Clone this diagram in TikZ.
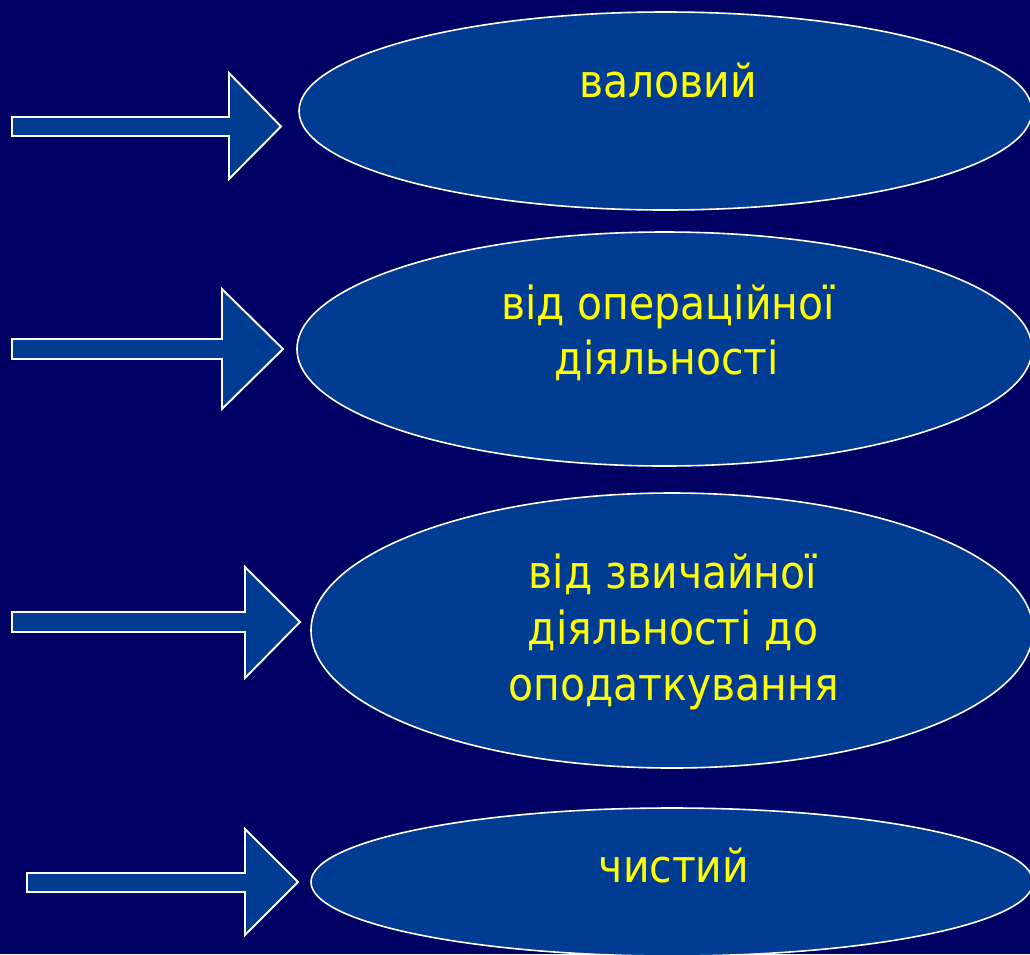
\documentclass[tikz,border=0pt]{standalone}
\usepackage{fontspec}
\usetikzlibrary{shapes.geometric}
\newfontfamily\lblfont{DejaVu Sans Condensed}
\definecolor{bgblue}{RGB}{0,0,100}
\definecolor{ellblue}{RGB}{0,60,145}
\definecolor{txtyellow}{RGB}{255,255,0}
\tikzset{
  ell/.style={ellipse, draw=white, line width=1.6pt, fill=ellblue, inner sep=0pt, outer sep=0pt},
  blockarrow/.style={draw=white, line width=1.9pt, fill=ellblue, line join=miter},
  lbl/.style={text=txtyellow, font=\lblfont\fontsize{45.5}{54}\selectfont, inner sep=0pt, anchor=base}
}
\begin{document}
\begin{tikzpicture}[x=1pt,y=-1pt]
\useasboundingbox (0,0) rectangle (1030,954);
\fill[bgblue] (0,0) rectangle (1030,954);
% ellipses
\node[ell, minimum width=733, minimum height=198] (e1) at (665.5,111) {};
\node[ell, minimum width=735, minimum height=234] (e2) at (664.5,349) {};
\node[ell, minimum width=722, minimum height=275] (e3) at (672,630.5) {};
\node[ell, minimum width=722, minimum height=148] (e4) at (672,882) {};
% labels
\node[lbl] (t1) at (668,97) {валовий};
\node[lbl] (t2a) at (668,319) {від операційної};
\node[lbl] (t2b) at (667,374) {діяльності};
\node[lbl] (t3a) at (673,588) {від звичайної};
\node[lbl] (t3b) at (673,644) {діяльності до};
\node[lbl] (t3c) at (674,700) {оподаткування};
\node[lbl] (t4) at (674,882) {чистий};
% block arrows
\draw[blockarrow] (12,117) -- (229,117) -- (229,73) -- (281,126.5) -- (229,179) -- (229,136) -- (12,136) -- cycle;
\draw[blockarrow] (12,339) -- (222,339) -- (222,289) -- (283,349) -- (222,409) -- (222,359) -- (12,359) -- cycle;
\draw[blockarrow] (12,612) -- (245,612) -- (245,567) -- (300,622) -- (245,678) -- (245,632) -- (12,632) -- cycle;
\draw[blockarrow] (27,873) -- (245,873) -- (245,829) -- (298,882) -- (245,935) -- (245,892) -- (27,892) -- cycle;
\end{tikzpicture}
\end{document}
